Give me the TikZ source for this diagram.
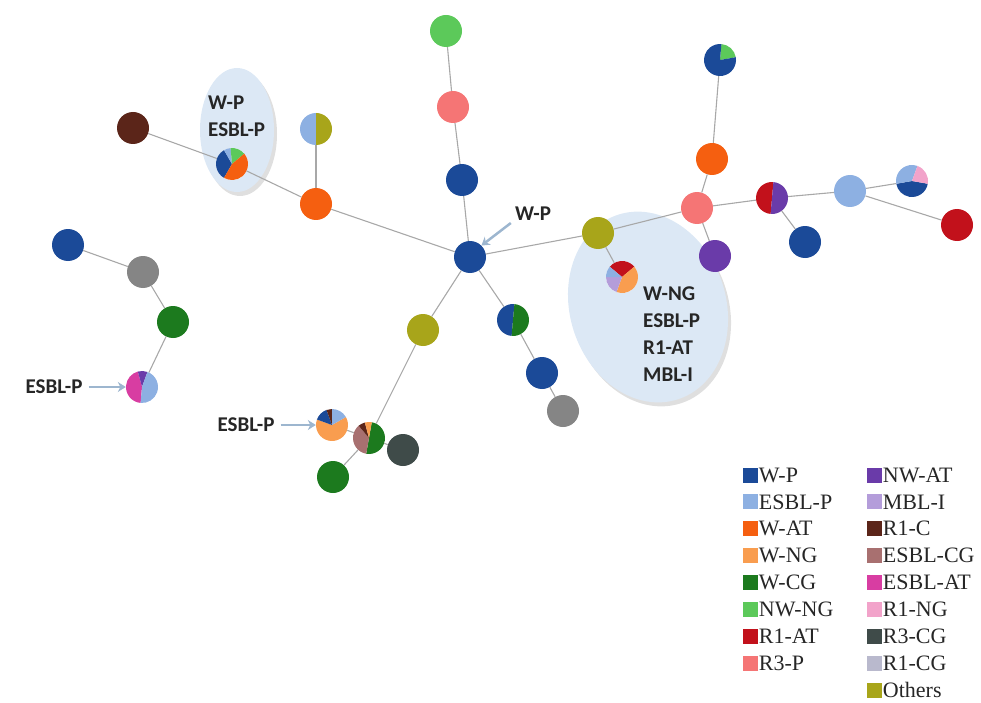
\documentclass[tikz,border=0pt]{standalone}
\usepackage{fontspec}
\setmainfont{Liberation Serif}
\newfontfamily\calfont{Carlito}
\usepackage{tikz}
\usetikzlibrary{arrows.meta,positioning,shapes.geometric,shadows}
\usepackage{xcolor}
\definecolor{cWP}{HTML}{1B4A98}
\definecolor{cESBLP}{HTML}{8DB0E2}
\definecolor{cWAT}{HTML}{F55F10}
\definecolor{cWNG}{HTML}{F99D4F}
\definecolor{cWCG}{HTML}{1C7A1E}
\definecolor{cNWNG}{HTML}{5CC95A}
\definecolor{cRAT}{HTML}{C2111B}
\definecolor{cRP}{HTML}{F57575}
\definecolor{cNWAT}{HTML}{6A3BA9}
\definecolor{cMBLI}{HTML}{B49DDA}
\definecolor{cRC}{HTML}{5B2519}
\definecolor{cESBLCG}{HTML}{A87070}
\definecolor{cESBLAT}{HTML}{D83DA2}
\definecolor{cRNG}{HTML}{F2A3CA}
\definecolor{cRCG}{HTML}{3F4B49}
\definecolor{cROCG}{HTML}{B9B9CD}
\definecolor{cOther}{HTML}{A8A51A}
\definecolor{cGrey}{HTML}{858585}
\definecolor{edgegrey}{HTML}{A8A8A8}
\definecolor{clusterblue}{HTML}{DCE8F5}
\definecolor{pointblue}{HTML}{9DB6CF}
\definecolor{ink}{HTML}{262626}

% one pie node: name, position, slices start/end/colour (angles clockwise from east)
\newcommand{\stpie}[3]{%
  \node[st=white] (#1) at #2 {};
  \foreach \from/\to/\col in {#3} {
    \fill[\col] (#1.center) -- ++(\from:16) arc[start angle=\from, end angle=\to, radius=16] -- cycle;
  }
}

\begin{document}
\begin{tikzpicture}[
    x=1pt, y=-1pt,
    st/.style={circle, minimum size=32pt, inner sep=0pt, fill=#1},
    link/.style={draw=edgegrey, line width=1.1pt},
    cluster/.style={ellipse, fill=clusterblue, inner sep=0pt, drop shadow={opacity=0.25, shadow xshift=3pt, shadow yshift=-4pt}},
    tag/.style={font=\calfont\bfseries\fontsize{21}{27}\selectfont, color=ink, align=left, inner sep=0pt},
    pointer/.style={-{Stealth[length=8pt, width=10pt]}, line width=2.5pt, color=pointblue},
    key/.style={minimum width=15pt, minimum height=15pt, inner sep=0pt, fill=#1},
    keytext/.style={font=\fontsize{22}{24}\selectfont, color=ink, inner sep=0pt},
]
\useasboundingbox (0,0) rectangle (981,703);

% clusters
\node[cluster, minimum width=74pt, minimum height=124pt] (cl1) at (237,130) {};
\node[cluster, minimum width=156pt, minimum height=194pt, rotate=18] (cl2) at (648,307) {};

% plain nodes
\node[st=cWP] (hub) at (470,257) {};
\node[st=cWP] (n1) at (462,180) {};
\node[st=cRP] (n2) at (453,107) {};
\node[st=cNWNG] (n3) at (446,31) {};
\node[st=cWAT] (wat) at (316,204) {};
\node[st=cRC] (rc) at (133,128) {};
\node[st=cOther] (oth1) at (598,233) {};
\node[st=cRP] (r3p) at (697,208) {};
\node[st=cWAT] (wat2) at (712,159) {};
\node[st=cNWAT] (nwat) at (715,256) {};
\node[st=cWP] (wp3) at (805,242) {};
\node[st=cESBLP] (esbl) at (850,191) {};
\node[st=cRAT] (r1at) at (957,225) {};
\node[st=cOther] (oth2) at (423,330) {};
\node[st=cWCG] (wcg2) at (333,477) {};
\node[st=cRCG] (r3cg) at (403,450) {};
\node[st=cWP] (wp4) at (542,373) {};
\node[st=cGrey] (gr2) at (563,411) {};
\node[st=cWP] (wp5) at (68,245) {};
\node[st=cGrey] (gr1) at (143,272) {};
\node[st=cWCG] (wcg1) at (173,322) {};

% pie nodes
\stpie{mix1}{(316,129)}{90/270/cESBLP, 270/450/cOther}
\stpie{mix2}{(232,164)}{120/240/cWP, 240/265/cESBLP, 265/320/cNWNG, 320/480/cWAT}
\stpie{mix3}{(622,277)}{220/320/cRAT, 320/470/cWNG, 110/180/cMBLI, 180/220/cESBLP}
\stpie{mix4}{(720,60)}{275/350/cNWNG, 350/635/cWP}
\stpie{mix5}{(772,198)}{95/275/cRAT, 275/455/cNWAT}
\stpie{mix6}{(912,181)}{10/170/cWP, 170/290/cESBLP, 290/370/cRNG}
\stpie{mix7}{(369,438)}{280/460/cWCG, 100/230/cESBLCG, 230/255/cRC, 255/280/cWNG}
\stpie{mix8}{(332,425)}{330/560/cWNG, 200/250/cWP, 250/270/cRC, 270/330/cESBLP}
\stpie{mix9}{(513,320)}{95/275/cWP, 275/455/cWCG}
\stpie{mix10}{(142,387)}{95/255/cESBLAT, 255/290/cNWAT, 290/455/cESBLP}

% links
\foreach \i/\j in {hub/n1, n1/n2, n2/n3, hub/wat, wat/mix1, wat/mix2, mix2/rc,
    hub/oth1, oth1/r3p, oth1/mix3, r3p/wat2, wat2/mix4, r3p/nwat, r3p/mix5,
    mix5/wp3, mix5/esbl, esbl/mix6, esbl/r1at, hub/oth2, oth2/mix7, mix7/mix8,
    mix7/wcg2, mix7/r3cg, hub/mix9, mix9/wp4, wp4/gr2, wp5/gr1, gr1/wcg1, wcg1/mix10} {
    \draw[link] (\i) -- (\j);
}

% labels
\node[tag, anchor=west] (lab1) at (208,116) {W-P\\ESBL-P};
\node[tag, anchor=west] (lab2) at (643,334) {W-NG\\ESBL-P\\R1-AT\\MBL-I};
\node[tag] (lab3) at (533,214) {W-P};
\node[tag] (lab4) at (54,387) {ESBL-P};
\node[tag] (lab5) at (246,425) {ESBL-P};
\draw[pointer] (lab3.south west) ++(-4,2) coordinate (a3) -- (hub.north east);
\draw[pointer] (lab4.east) ++(6,0) coordinate (a4) -- (mix10.west);
\draw[pointer] (lab5.east) ++(6,0) coordinate (a5) -- (mix8.west);

% legend
\foreach \c/\t [count=\k from 0] in {cWP/W-P, cESBLP/ESBL-P, cWAT/W-AT, cWNG/W-NG,
    cWCG/W-CG, cNWNG/NW-NG, cRAT/R1-AT, cRP/R3-P} {
    \node[key=\c] (kl\k) at (750,{475+26.9*\k}) {};
    \node[keytext, right=1pt of kl\k] (tl\k) {\t};
}
\foreach \c/\t [count=\k from 0] in {cNWAT/NW-AT, cMBLI/MBL-I, cRC/R1-C, cESBLCG/ESBL-CG,
    cESBLAT/ESBL-AT, cRNG/R1-NG, cRCG/R3-CG, cROCG/R1-CG, cOther/Others} {
    \node[key=\c] (kr\k) at (874,{475+26.9*\k}) {};
    \node[keytext, right=1pt of kr\k] (tr\k) {\t};
}

\end{tikzpicture}
\end{document}
